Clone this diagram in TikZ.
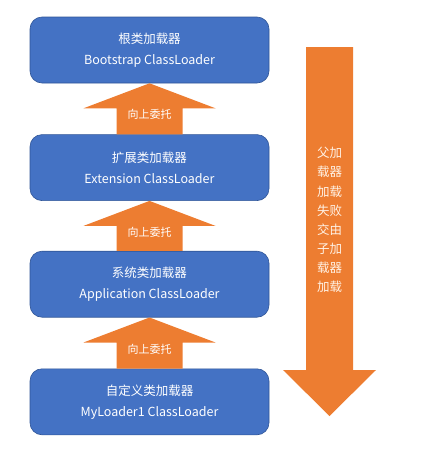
\documentclass[tikz,border=0pt]{standalone}
\usepackage{fontspec}
\setmainfont{Noto Sans CJK SC}
\usetikzlibrary{positioning,calc}
\definecolor{boxblue}{RGB}{68,114,196}
\definecolor{boxedge}{RGB}{47,85,151}
\definecolor{arrorange}{RGB}{237,125,49}

\begin{document}
\begin{tikzpicture}[x=1pt,y=1pt,
box/.style={draw=boxedge,line width=0.6pt,rounded corners=12pt,fill=boxblue,
minimum width=239pt,minimum height=66pt,align=center,text=white,
font=\fontsize{12.5}{21}\selectfont},
arr/.style={fill=arrorange},
lbl/.style={text=white,font=\fontsize{11}{13}\selectfont},
vlbl/.style={text=white!90!orange,align=center,font=\fontsize{12.5}{19.1}\selectfont}
]
\useasboundingbox (0,0) rectangle (430,-461);
\node[box] (boot) at (149.5,-50) {根类加载器\\Bootstrap ClassLoader};
\node[box,below=51pt of boot] (ext) {扩展类加载器\\Extension ClassLoader};
\node[box,below=50pt of ext] (app) {系统类加载器\\Application ClassLoader};
\node[box,below=51pt of app] (my) {自定义类加载器\\MyLoader1 ClassLoader};
% up arrows
\foreach \lo/\up in {ext/boot,app/ext,my/app}{
  \fill[arr] (\up.south) -- ($(\up.south)+(66,-25)$) -- ($(\up.south)+(33,-25)$)
    -- ($(\lo.north)+(33,0)$) -- ($(\lo.north)+(-33,0)$)
    -- ($(\up.south)+(-33,-25)$) -- ($(\up.south)+(-66,-25)$) -- cycle;
  \node[lbl] (up-\lo) at ($(\up.south)+(0,-31.5)$) {向上委托};
}
% down arrow
\coordinate (dtop) at (329.5,-47);
\coordinate (dtip) at (329.5,-416);
\fill[arr] ($(dtop)+(-23.5,0)$) -- ($(dtop)+(23.5,0)$) -- ($(dtip)+(23.5,46)$)
  -- ($(dtip)+(46.5,46)$) -- (dtip) -- ($(dtip)+(-46.5,46)$) -- ($(dtip)+(-23.5,46)$) -- cycle;
\node[vlbl] (down) at (329.5,-220) {父加\\载器\\加载\\失败\\交由\\子加\\载器\\加载};
\end{tikzpicture}
\end{document}
